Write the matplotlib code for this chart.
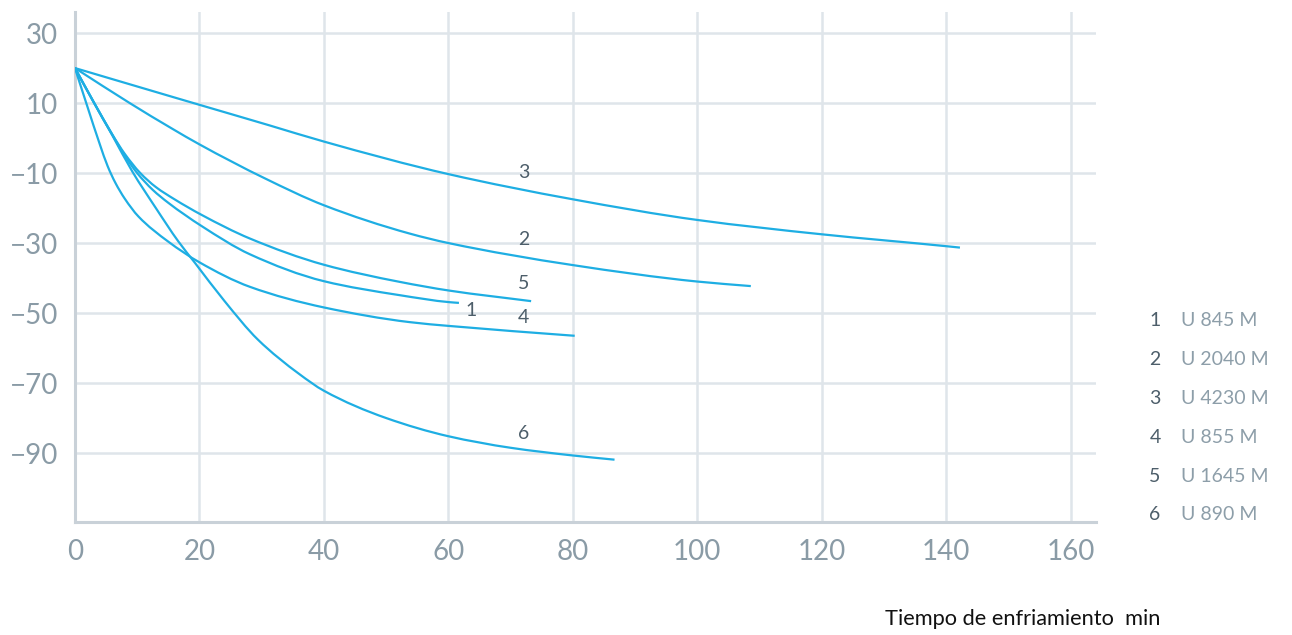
import matplotlib
matplotlib.use("Agg")
import matplotlib.pyplot as plt
from matplotlib.path import Path
from matplotlib.patches import PathPatch

# ---- data ----
x1 = [0, 3, 6, 8, 10, 12.5, 15, 20.4, 28.1, 40, 52.2, 60.2, 61.7]
y1 = [20, 10.3, 1, -5, -10, -14.8, -18.5, -25.2, -33.2, -40.9, -44.9, -46.9, -47.1]

x2 = [0, 8.8, 15.6, 20, 30.5, 40, 53.8, 60, 80, 100, 108.6]
y2 = [20, 10, 2.7, -1.8, -11.5, -19.2, -27.3, -30, -36.3, -41, -42.3]

x3 = [0, 15.6, 20, 31.3, 40, 60, 80, 100, 120, 140, 142.2]
y3 = [20, 11.8, 9.5, 3.6, -1.0, -10.3, -17.5, -23.4, -27.5, -30.9, -31.3]

x4 = [0, 2, 4, 5.25, 6.5, 8, 10.2, 15, 20, 28.1, 40, 53.8, 60.2, 80.3]
y4 = [20, 9, -1.8, -8, -12.8, -17.3, -22.4, -29.6, -35.5, -42.5, -48.4, -52.6, -53.7, -56.5]

x5 = [0, 3, 6, 8, 10.5, 13, 16, 20.4, 28.1, 40, 52.2, 60.2, 73.3]
y5 = [20, 10.3, 1, -4.5, -10, -14, -17.5, -22, -28.7, -36.2, -41.1, -43.6, -46.6]

x6 = [0, 3, 6, 9.2, 13, 16.6, 19.3, 24, 29.4, 36.1, 40, 50, 60, 70, 80, 86.7]
y6 = [20, 10.3, 0.8, -9.5, -20, -29.5, -35.7, -46.5, -57.6, -67.5, -72.2, -80, -85.2, -88.5, -90.7, -91.9]

series_ids = ["1", "2", "3", "4", "5", "6"]
series_names = ["U 845 M", "U 2040 M", "U 4230 M", "U 855 M", "U 1645 M", "U 890 M"]

# curve label positions (data coords)
label_ids = ["3", "2", "5", "1", "4", "6"]
label_x = [72.1, 72.1, 72.1, 63.6, 72.1, 72.1]
label_y = [-9.7, -28.9, -41.7, -49.4, -51.4, -84.3]

xticks = [0, 20, 40, 60, 80, 100, 120, 140, 160]
yticks = [30, 10, -10, -30, -50, -70, -90]
xlabel = "Tiempo de enfriamiento  min"

# ---- style ----
LINE = "#1eaee3"
GRID = "#dfe5ea"
SPINE = "#c9d1d8"
TICK = "#8a9ba6"
DARK = "#4d5e6a"
LEG = "#8d9ea9"


def smooth_path(xs, ys):
    """Monotone (Fritsch-Carlson) cubic Bezier path through the read points."""
    n = len(xs)
    h = [xs[i + 1] - xs[i] for i in range(n - 1)]
    d = [(ys[i + 1] - ys[i]) / h[i] for i in range(n - 1)]
    m = [0.0] * n
    m[0] = d[0]
    m[-1] = d[-1]
    for i in range(1, n - 1):
        if d[i - 1] * d[i] <= 0:
            m[i] = 0.0
        else:
            w1 = 2 * h[i] + h[i - 1]
            w2 = h[i] + 2 * h[i - 1]
            m[i] = (w1 + w2) / (w1 / d[i - 1] + w2 / d[i])
    verts = [(xs[0], ys[0])]
    codes = [Path.MOVETO]
    for i in range(n - 1):
        c1 = (xs[i] + h[i] / 3, ys[i] + m[i] * h[i] / 3)
        c2 = (xs[i + 1] - h[i] / 3, ys[i + 1] - m[i + 1] * h[i] / 3)
        verts += [c1, c2, (xs[i + 1], ys[i + 1])]
        codes += [Path.CURVE4] * 3
    return Path(verts, codes)


plt.rcParams['font.family'] = ['Lato', 'DejaVu Sans']

fig = plt.figure(figsize=(12.92, 6.35), dpi=100)
ax = fig.add_axes([0.058, 0.178, 0.790, 0.803])

for xs, ys in [(x1, y1), (x2, y2), (x3, y3), (x4, y4), (x5, y5), (x6, y6)]:
    ax.add_patch(PathPatch(smooth_path(xs, ys), facecolor='none', edgecolor=LINE,
                           lw=1.6, capstyle='butt', zorder=3))

ax.set_xlim(0, 164)
ax.set_ylim(-109.7, 36)
ax.set_xticks(xticks)
ax.set_yticks(yticks)
ax.set_yticklabels([f"{v}".replace("-", "\u2212") for v in yticks])
ax.grid(True, color=GRID, lw=1.8, zorder=0)
ax.set_axisbelow(True)
for s in ["top", "right"]:
    ax.spines[s].set_visible(False)
for s in ["left", "bottom"]:
    ax.spines[s].set_color(SPINE)
    ax.spines[s].set_linewidth(2.2)
ax.tick_params(length=0, labelsize=20, labelcolor=TICK)
ax.tick_params(axis='x', pad=12)
ax.tick_params(axis='y', pad=12)

for t, lx, ly in zip(label_ids, label_x, label_y):
    ax.text(lx, ly, t, color=DARK, fontsize=14, ha='center', va='center', zorder=4)

# legend on the right
leg_y0 = 321
leg_dy = 38.8
for i, (sid, nm) in enumerate(zip(series_ids, series_names)):
    ypx = leg_y0 + i * leg_dy
    yf = 1 - ypx / 635
    fig.text(1155 / 1292, yf, sid, color=DARK, fontsize=14, ha='center', va='center')
    fig.text(1181 / 1292, yf, nm, color=LEG, fontsize=14, ha='left', va='center')

fig.text(1160 / 1292, 1 - 619 / 635, xlabel, color="#111111", fontsize=15.7,
         ha='right', va='center')

fig.savefig("out.png", dpi=100)
